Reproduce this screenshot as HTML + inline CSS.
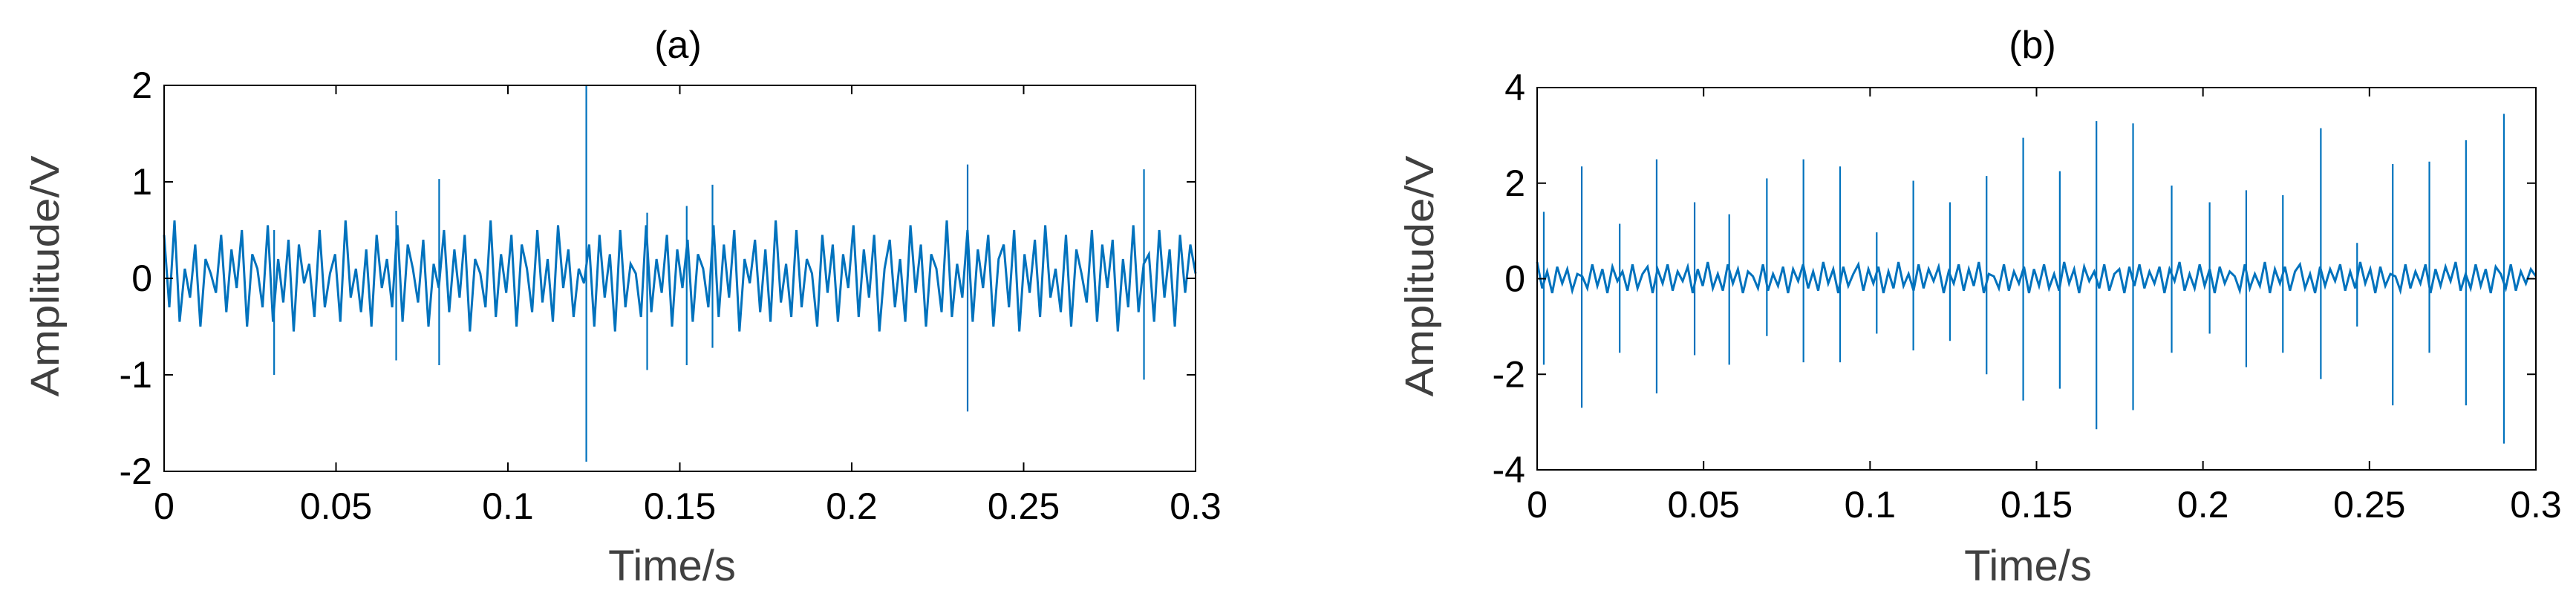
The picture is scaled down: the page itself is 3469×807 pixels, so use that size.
<!DOCTYPE html>
<html><head><meta charset="utf-8"><style>
html,body{margin:0;padding:0;background:#fff;}
svg{display:block;}
</style></head><body>
<svg id="fig" width="3469" height="807" viewBox="0 0 3469 807" xmlns="http://www.w3.org/2000/svg"></svg>
<script>
// Panel (a) data
const noiseA = [0.45,-0.3,0.6,-0.45,0.1,-0.2,0.35,-0.5,0.2,0.05,-0.15,0.45,-0.35,0.3,-0.1,0.5,-0.5,0.25,0.1,-0.3,
0.55,-0.45,0.2,-0.25,0.4,-0.55,0.35,-0.05,0.15,-0.4,0.5,-0.3,0.05,0.25,-0.45,0.6,-0.2,0.1,-0.35,0.3,
-0.5,0.45,-0.1,0.2,-0.3,0.55,-0.45,0.35,0.1,-0.25,0.4,-0.5,0.15,-0.1,0.5,-0.35,0.3,-0.2,0.45,-0.55,
0.2,0.05,-0.3,0.6,-0.4,0.25,-0.15,0.45,-0.5,0.35,0.1,-0.35,0.5,-0.25,0.2,-0.45,0.55,-0.1,0.3,-0.4,
0.1,-0.05,0.35,-0.5,0.45,-0.2,0.25,-0.55,0.5,-0.3,0.15,0.05,-0.4,0.55,-0.35,0.2,-0.15,0.45,-0.5,0.3,
-0.1,0.4,-0.45,0.25,0.1,-0.3,0.55,-0.4,0.35,-0.2,0.5,-0.55,0.2,-0.05,0.4,-0.35,0.3,-0.45,0.6,-0.25,
0.15,-0.4,0.5,-0.3,0.2,0.05,-0.5,0.45,-0.15,0.35,-0.45,0.25,-0.1,0.55,-0.4,0.3,-0.2,0.45,-0.55,0.1,
0.4,-0.3,0.2,-0.45,0.55,-0.15,0.35,-0.5,0.25,0.1,-0.35,0.6,-0.4,0.15,-0.2,0.5,-0.45,0.3,-0.1,0.45,
-0.5,0.2,0.35,-0.3,0.5,-0.55,0.25,-0.15,0.4,-0.4,0.55,-0.2,0.1,-0.35,0.45,-0.5,0.3,0.05,-0.25,0.5,
-0.45,0.35,-0.1,0.4,-0.55,0.2,-0.3,0.55,-0.35,0.15,0.25,-0.45,0.5,-0.2,0.3,-0.5,0.45,-0.15,0.35,0.05];
const spikeTA = [0.032,0.0675,0.080,0.1228,0.1405,0.152,0.1595,0.2337,0.285];
const spikeHiA = [0.5,0.7,1.03,2.0,0.68,0.75,0.97,1.18,1.13];
const spikeLoA = [-1.0,-0.85,-0.9,-1.9,-0.95,-0.9,-0.72,-1.38,-1.05];
const yTicksA = [2,1,0,-1,-2];
// Panel (b) data
const noiseB = [0.35,-0.2,0.15,-0.3,0.25,-0.1,0.2,-0.25,0.1,0.05,-0.2,0.3,-0.15,0.2,-0.3,0.25,-0.05,0.15,-0.25,0.3,
-0.2,0.1,0.25,-0.3,0.2,-0.1,0.3,-0.25,0.15,-0.05,0.25,-0.3,0.2,-0.15,0.35,-0.2,0.1,-0.25,0.3,-0.1,
0.2,-0.3,0.15,0.05,-0.2,0.3,-0.25,0.1,-0.15,0.25,-0.3,0.2,-0.05,0.3,-0.2,0.15,-0.25,0.35,-0.1,0.2,
-0.3,0.25,-0.15,0.1,0.3,-0.25,0.2,-0.1,0.25,-0.3,0.15,-0.2,0.35,-0.15,0.1,-0.25,0.3,-0.2,0.2,-0.05,
0.25,-0.3,0.15,-0.1,0.3,-0.25,0.2,-0.15,0.35,-0.3,0.1,0.05,-0.2,0.3,-0.25,0.15,-0.1,0.25,-0.3,0.2,
-0.15,0.3,-0.2,0.1,-0.25,0.35,-0.1,0.2,-0.3,0.25,-0.05,0.15,-0.2,0.3,-0.25,0.1,0.2,-0.3,0.25,-0.15,
0.3,-0.2,0.15,-0.1,0.25,-0.3,0.2,-0.05,0.35,-0.25,0.1,-0.2,0.3,-0.15,0.2,-0.3,0.25,-0.1,0.15,0.05,
-0.25,0.3,-0.2,0.1,-0.15,0.35,-0.3,0.2,-0.1,0.25,-0.25,0.15,0.3,-0.2,0.1,-0.3,0.25,-0.15,0.2,-0.05,
0.3,-0.25,0.15,-0.2,0.35,-0.1,0.2,-0.3,0.25,-0.15,0.1,0.05,-0.25,0.3,-0.2,0.15,-0.1,0.3,-0.3,0.2,
-0.15,0.25,-0.05,0.35,-0.25,0.1,-0.2,0.3,-0.15,0.2,-0.3,0.25,0.1,-0.2,0.3,-0.25,0.15,-0.1,0.2,0.05];
const spikeTB = [0.002,0.0134,0.0248,0.0359,0.0473,0.0577,0.069,0.080,0.091,0.102,0.113,0.124,0.135,0.146,0.157,0.168,0.179,0.1906,0.202,0.213,0.224,0.2354,0.2463,0.257,0.268,0.279,0.2904];
const spikeHiB = [1.4,2.35,1.15,2.5,1.6,1.35,2.1,2.5,2.35,0.97,2.05,1.6,2.15,2.95,2.25,3.3,3.25,1.95,1.6,1.85,1.75,3.15,0.75,2.4,2.45,2.9,3.45];
const spikeLoB = [-1.8,-2.7,-1.55,-2.4,-1.6,-1.8,-1.2,-1.75,-1.75,-1.15,-1.5,-1.3,-2.0,-2.55,-2.3,-3.15,-2.75,-1.55,-1.15,-1.85,-1.55,-2.1,-1.0,-2.65,-1.55,-2.65,-3.45];
const yTicksB = [4,2,0,-2,-4];
const xTicks = [0,0.05,0.1,0.15,0.2,0.25,0.3];
const xTickLabels = ["0","0.05","0.1","0.15","0.2","0.25","0.3"];

const NS = "http://www.w3.org/2000/svg";
const svg = document.getElementById('fig');
function mk(tag, attrs, parent){
  const e = document.createElementNS(NS, tag);
  for (const k in attrs) e.setAttribute(k, attrs[k]);
  (parent||svg).appendChild(e);
  return e;
}
function panel(p){
  const g = mk('g', {});
  
  
  const sx = t => p.x0 + (t - 0) / 0.3 * (p.x1 - p.x0);
  const sy = v => p.y1 - (v - p.ymin) / (p.ymax - p.ymin) * (p.y1 - p.y0);
  let pts = [];
  const n = p.noise.length;
  for (let i = 0; i < n; i++){
    const t = i / (n - 1) * 0.3;
    pts.push(sx(t).toFixed(1) + ',' + sy(p.noise[i]).toFixed(1));
  }
  const line = mk('polyline', {points: pts.join(' '), fill:'none', stroke:'#0072BD', 'stroke-width':3}, g);
  
  
  for (let i = 0; i < p.st.length; i++){
    const s = mk('line', {x1:sx(p.st[i]), x2:sx(p.st[i]), y1:sy(p.hi[i]), y2:sy(p.lo[i]), stroke:'#0072BD', 'stroke-width':2.2}, g);
    
    
  }
  const box = mk('rect', {x:p.x0, y:p.y0, width:p.x1-p.x0, height:p.y1-p.y0, fill:'none', stroke:'#000', 'stroke-width':2}, g);
  
  
  for (let i = 0; i < xTicks.length; i++){
    const x = sx(xTicks[i]);
    mk('line', {x1:x,x2:x,y1:p.y1,y2:p.y1-12,stroke:'#000','stroke-width':2}, g);
    mk('line', {x1:x,x2:x,y1:p.y0,y2:p.y0+12,stroke:'#000','stroke-width':2}, g);
    const tl = mk('text', {x:x, y:p.y1+64, 'text-anchor':'middle', 'font-size':50, 'font-family':'Liberation Sans, sans-serif', fill:'#000'}, g);
    tl.textContent = xTickLabels[i];
    
    
  }
  for (let i = 0; i < p.yt.length; i++){
    const y = sy(p.yt[i]);
    mk('line', {x1:p.x0,x2:p.x0+12,y1:y,y2:y,stroke:'#000','stroke-width':2}, g);
    mk('line', {x1:p.x1,x2:p.x1-12,y1:y,y2:y,stroke:'#000','stroke-width':2}, g);
    const tl = mk('text', {x:p.x0-16, y:y+17, 'text-anchor':'end', 'font-size':50, 'font-family':'Liberation Sans, sans-serif', fill:'#000'}, g);
    tl.textContent = String(p.yt[i]);
    
    
  }
  const title = mk('text', {x:p.tx, y:78, 'text-anchor':'middle', 'font-size':52, 'font-family':'Liberation Sans, sans-serif', fill:'#000'}, g);
  title.textContent = p.title;
  
  
  const xl = mk('text', {x:p.xlx, y:782, 'text-anchor':'middle', 'font-size':58, 'font-family':'Liberation Sans, sans-serif', fill:'#404040'}, g);
  xl.textContent = 'Time/s';
  
  
  const yl = mk('text', {x:0, y:0, 'text-anchor':'middle', 'font-size':54, 'font-family':'Liberation Sans, sans-serif', fill:'#404040', textLength:325, lengthAdjust:'spacingAndGlyphs', transform:'translate('+(p.ylx+19)+',372) rotate(-90)'}, g);
  yl.textContent = 'Amplitude/V';
  
  
}
panel({name:'panel-a', x0:221, x1:1610, y0:115, y1:635, ymin:-2, ymax:2, noise:noiseA, st:spikeTA, hi:spikeHiA, lo:spikeLoA, yt:yTicksA, title:'(a)', tx:913, xlx:905, ylx:60});
panel({name:'panel-b', x0:2070, x1:3415, y0:118, y1:633, ymin:-4, ymax:4, noise:noiseB, st:spikeTB, hi:spikeHiB, lo:spikeLoB, yt:yTicksB, title:'(b)', tx:2737, xlx:2731, ylx:1911});
</script>
</body></html>
